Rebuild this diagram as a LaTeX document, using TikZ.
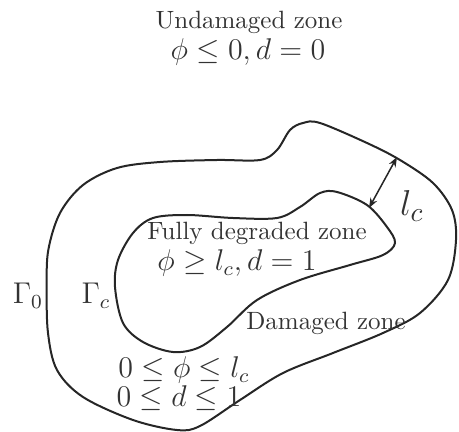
\documentclass[tikz,border=0pt]{standalone}
\usetikzlibrary{arrows.meta}
\begin{document}
\begin{tikzpicture}[x=0.4pt,y=-0.4pt,
  boundary/.style={line width=0.8pt,black!85},
  lbl/.style={inner sep=0pt,text=black!80},
  mathlbl/.style={inner sep=0pt,text=black!80,font=\fontsize{11.5}{13}\selectfont},
  dim/.style={line width=0.6pt,black!85,{Stealth[length=4pt,width=3pt]}-{Stealth[length=4pt,width=3pt]}}]
\useasboundingbox (0,0) rectangle (459,432);
% outer boundary Gamma_0
\draw[boundary] plot[smooth cycle,tension=0.55] coordinates {
 (46.7,286.7) (48.3,250) (60,213) (83,185) (117,168) (160,162) (217,160) (260,160)
 (277,150) (290,130) (303,123) (320,123) (367,143) (400,160) (433,183) (452,210)
 (456,240) (448,280) (420,313) (383,333) (333,353) (283,373) (240,400) (200,426)
 (177,430) (133,420) (83,397) (57,370) (48,333)};
% inner boundary Gamma_c
\draw[boundary] plot[smooth cycle,tension=0.55] coordinates {
 (115,287) (118,260) (133,233) (153,218) (187,215) (233,218) (277,218) (300,207)
 (320,193) (337,192) (367,205) (387,227) (395,243) (383,255) (350,265) (300,280)
 (257,300) (227,327) (200,347) (173,352) (143,342) (123,323)};
\coordinate (lcin) at (369,208);
\coordinate (lcout) at (397,157);
\draw[dim] (lcin) -- (lcout);
\node[mathlbl,font=\fontsize{15}{17}\selectfont] (lc) at (412,206) {$l_c$};
\node[lbl] (und) at (249,22) {Undamaged zone};
\node[mathlbl] (undm) at (248,52) {$\phi\leq 0, d=0$};
\node[lbl] (fdz) at (257,233) {Fully degraded zone};
\node[mathlbl] (fdzm) at (237,263) {$\phi\geq l_c, d=1$};
\node[mathlbl] (g0) at (28,296) {$\Gamma_0$};
\node[mathlbl] (gc) at (96,296) {$\Gamma_c$};
\node[lbl] (dz) at (326,323) {Damaged zone};
\node[mathlbl] (dzm1) at (184,370) {$0\leq\phi\leq l_c$};
\node[mathlbl] (dzm2) at (179,398) {$0\leq d\leq 1$};
\end{tikzpicture}
\end{document}
